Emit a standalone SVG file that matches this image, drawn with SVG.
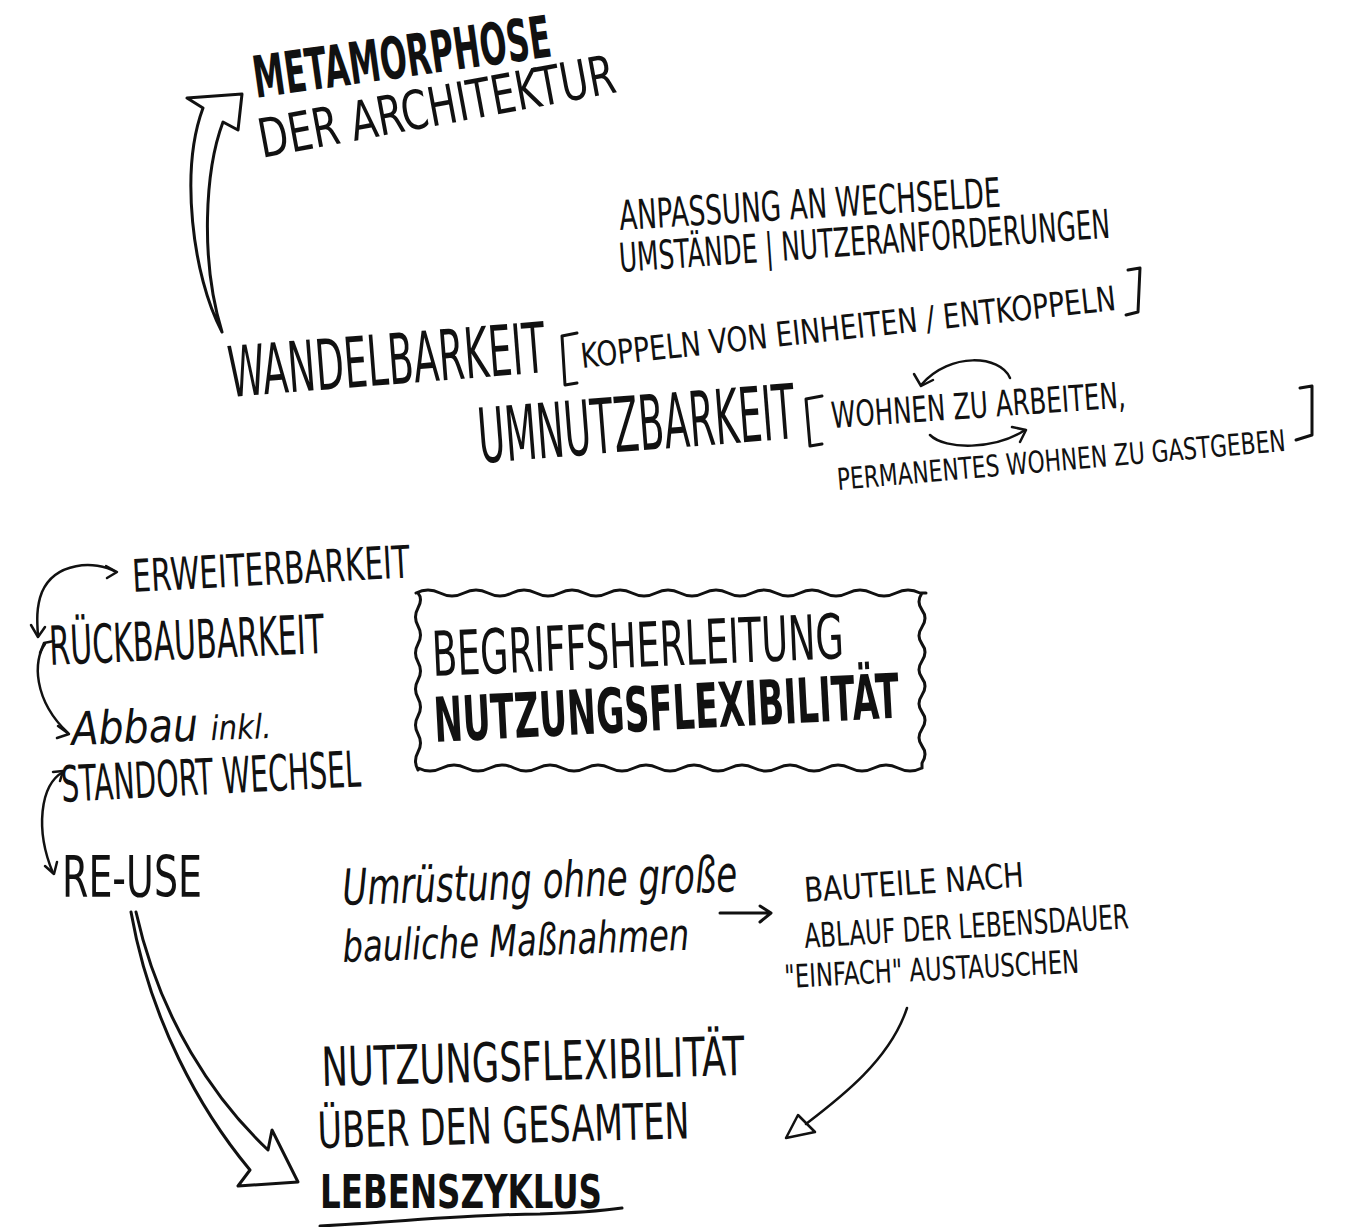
<svg xmlns="http://www.w3.org/2000/svg" width="1345" height="1227" viewBox="0 0 1345 1227">
<style>
.t{font-family:"DejaVu Sans Condensed","Liberation Sans Narrow","DejaVu Sans",sans-serif;fill:#111;}
.b{font-weight:bold;}
.h{font-family:"DejaVu Sans Condensed","DejaVu Sans",sans-serif;font-style:italic;fill:#111;}
.ln{fill:none;stroke:#111;stroke-width:3;stroke-linecap:round;stroke-linejoin:round;}
.thin{fill:none;stroke:#111;stroke-width:2.5;stroke-linecap:round;stroke-linejoin:round;}
</style>
<rect width="1345" height="1227" fill="#fff"/>

<g id="metamorphose">
<text class="t b" x="256" y="98" font-size="58" textLength="300" lengthAdjust="spacingAndGlyphs" transform="rotate(-8 256 98)">METAMORPHOSE</text>
<text class="t" x="262" y="158" font-size="54" textLength="362" lengthAdjust="spacingAndGlyphs" transform="rotate(-10.5 262 158)">DER ARCHITEKTUR</text>
</g>

<g id="anpassung">
<text class="t" x="620" y="230" font-size="41" textLength="382" lengthAdjust="spacingAndGlyphs" transform="rotate(-3.5 620 230)">ANPASSUNG AN WECHSELDE</text>
<text class="t" x="620" y="272" font-size="40" textLength="492" lengthAdjust="spacingAndGlyphs" transform="rotate(-4 620 272)">UMSTÄNDE | NUTZERANFORDERUNGEN</text>
</g>

<g id="wandelbarkeit">
<text class="t" x="230" y="397" font-size="70" textLength="318" lengthAdjust="spacingAndGlyphs" transform="rotate(-4.5 230 397)">WANDELBARKEIT</text>
<path class="ln" d="M577,333 L562,336 L565,385 L577,383"/>
<text class="t" x="582" y="368" font-size="34" textLength="538" lengthAdjust="spacingAndGlyphs" transform="rotate(-6.2 582 368)">KOPPELN VON EINHEITEN / ENTKOPPELN</text>
<path class="ln" d="M1128,270 L1140,268 L1138,312 L1126,315"/>
</g>

<g id="umnutzbarkeit">
<text class="t" x="480" y="463" font-size="76" textLength="318" lengthAdjust="spacingAndGlyphs" transform="rotate(-4.5 480 463)">UMNUTZBARKEIT</text>
<path class="ln" d="M822,396 L806,399 L810,446 L822,444"/>
<text class="t" x="832" y="428" font-size="36" textLength="295" lengthAdjust="spacingAndGlyphs" transform="rotate(-4 832 428)">WOHNEN ZU ARBEITEN,</text>
<text class="t" x="838" y="490" font-size="30" textLength="450" lengthAdjust="spacingAndGlyphs" transform="rotate(-5 838 490)">PERMANENTES WOHNEN ZU GASTGEBEN</text>
<path class="ln" d="M1300,388 L1312,386 L1312,435 L1296,440"/>
</g>

<g id="erweiterbarkeit">
<text class="t" x="133" y="592" font-size="45" textLength="278" lengthAdjust="spacingAndGlyphs" transform="rotate(-3 133 592)">ERWEITERBARKEIT</text>
</g>
<g id="rueckbaubarkeit">
<text class="t" x="50" y="665" font-size="54" textLength="275" lengthAdjust="spacingAndGlyphs" transform="rotate(-2.5 50 665)">RÜCKBAUBARKEIT</text>
</g>
<g id="abbau">
<text class="h" x="72" y="745" font-size="46" textLength="200" lengthAdjust="spacingAndGlyphs" transform="rotate(-2 72 745)">Abbau <tspan font-size="34">inkl.</tspan></text>
<text class="t" x="62" y="802" font-size="50" textLength="300" lengthAdjust="spacingAndGlyphs" transform="rotate(-3 62 802)">STANDORT WECHSEL</text>
</g>
<g id="reuse">
<text class="t" x="62" y="897" font-size="57" textLength="140" lengthAdjust="spacingAndGlyphs">RE-USE</text>
</g>

<g id="begriffsherleitung">
<path class="ln" d="M416,593 q12,-6 24,0 t24,0 t24,0 t24,0 t24,0 t24,0 t24,0 t24,0 t24,0 t24,0 t24,0 t24,0 t24,0 t24,0 t24,0 t24,0 t24,0 t24,0 t24,0 t24,0 t24,0 l6,0 M922,593 q-6,9 0,17 t0,17 t0,17 t0,17 t0,17 t0,17 t0,17 t0,17 t0,17 t0,17 l0,5 M922,768 q-12,6 -24,0 t-24,0 t-24,0 t-24,0 t-24,0 t-24,0 t-24,0 t-24,0 t-24,0 t-24,0 t-24,0 t-24,0 t-24,0 t-24,0 t-24,0 t-24,0 t-24,0 t-24,0 t-24,0 t-24,0 t-24,0 M418,770 q-5,-9 0,-18 t0,-18 t0,-18 t0,-18 t0,-18 t0,-18 t0,-18 t0,-18 t0,-18 t0,-15"/>
<text class="t" x="433" y="676" font-size="62" textLength="412" lengthAdjust="spacingAndGlyphs" transform="rotate(-2.5 433 676)">BEGRIFFSHERLEITUNG</text>
<text class="t b" x="435" y="742" font-size="62" textLength="466" lengthAdjust="spacingAndGlyphs" transform="rotate(-3 435 742)">NUTZUNGSFLEXIBILITÄT</text>
</g>

<g id="umruestung">
<text class="h" x="343" y="905" font-size="50" textLength="395" lengthAdjust="spacingAndGlyphs" transform="rotate(-2 343 905)">Umrüstung ohne große</text>
<text class="h" x="343" y="962" font-size="44" textLength="347" lengthAdjust="spacingAndGlyphs" transform="rotate(-2 343 962)">bauliche Maßnahmen</text>
</g>

<g id="bauteile">
<text class="t" x="805" y="902" font-size="34" textLength="220" lengthAdjust="spacingAndGlyphs" transform="rotate(-4 805 902)">BAUTEILE NACH</text>
<text class="t" x="805" y="948" font-size="34" textLength="325" lengthAdjust="spacingAndGlyphs" transform="rotate(-3.5 805 948)">ABLAUF DER LEBENSDAUER</text>
<text class="t" x="785" y="988" font-size="32" textLength="295" lengthAdjust="spacingAndGlyphs" transform="rotate(-3 785 988)">"EINFACH" AUSTAUSCHEN</text>
</g>

<g id="lebenszyklus">
<text class="t" x="322" y="1086" font-size="54" textLength="423" lengthAdjust="spacingAndGlyphs" transform="rotate(-1.5 322 1086)">NUTZUNGSFLEXIBILITÄT</text>
<text class="t" x="318" y="1148" font-size="50" textLength="372" lengthAdjust="spacingAndGlyphs" transform="rotate(-1.5 318 1148)">ÜBER DEN GESAMTEN</text>
<text class="t b" x="320" y="1208" font-size="46" textLength="282" lengthAdjust="spacingAndGlyphs">LEBENSZYKLUS</text>
<path class="ln" d="M320,1226 C400,1222 470,1214 540,1214 C570,1213 600,1211 622,1208"/>
</g>

<g id="connectors">
<path class="ln" d="M222,332 C192,275 180,170 203,108 L187,98 L242,94 L238,130 L223,122 C205,170 200,260 222,332"/>
<path class="thin" d="M1010,378 C1000,355 950,352 922,384"/>
<path class="thin" d="M914,374 L921,386 L933,380"/>
<path class="thin" d="M930,435 C945,450 995,450 1025,430"/>
<path class="thin" d="M1012,427 L1026,430 L1020,442"/>
<path class="thin" d="M116,572 C95,560 55,562 42,592 C36,607 37,622 38,636"/>
<path class="thin" d="M106,566 L117,572 L107,578 M31,625 L38,637 L45,627"/>
<path class="thin" d="M45,644 C33,660 33,700 68,733"/>
<path class="thin" d="M40,653 L44,643 L54,641 M58,726 L69,734 L57,738"/>
<path class="thin" d="M63,772 C40,785 35,830 53,873"/>
<path class="thin" d="M53,772 L63,771 L60,781 M45,866 L54,874 L57,862"/>
<path class="ln" d="M720,913 L770,913 M760,906 L771,913 L760,922"/>
<path class="thin" d="M907,1008 C890,1060 840,1098 806,1124"/>
<path class="thin" d="M786,1138 L798,1115 L815,1132 Z"/>
<path class="ln" d="M131,912 C150,1020 200,1110 250,1170 L238,1186 L298,1182 L272,1130 L268,1150 C215,1100 160,1020 136,912"/>
</g>
</svg>
